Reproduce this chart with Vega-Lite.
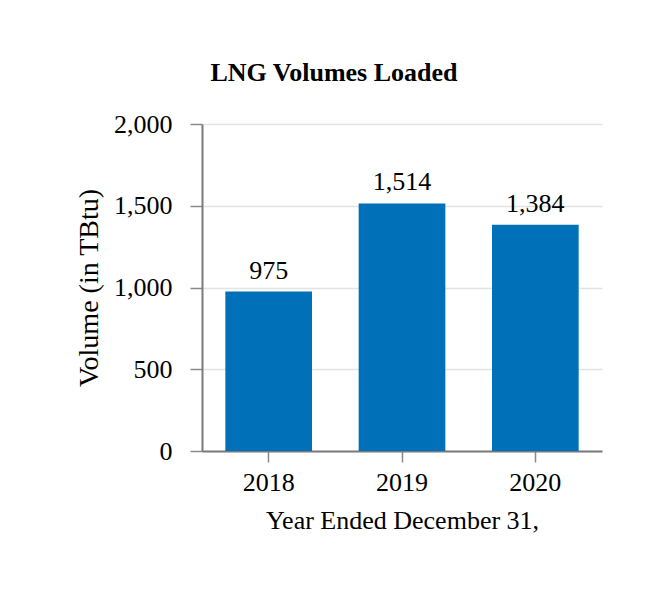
{
  "$schema": "https://vega.github.io/schema/vega-lite/v6.json",
  "autosize": "none",
  "padding": {"left": 202, "top": 124, "right": 64, "bottom": 149},
  "width": 400,
  "height": 327,
  "background": "white",
  "title": {
    "text": "LNG Volumes Loaded",
    "font": "Liberation Serif",
    "fontSize": 26,
    "fontWeight": "bold",
    "color": "black",
    "anchor": "middle",
    "dx": -68,
    "offset": 25
  },
  "data": {
    "values": [
      {"year": "2018", "volume": 975, "label": "975"},
      {"year": "2019", "volume": 1514, "label": "1,514"},
      {"year": "2020", "volume": 1384, "label": "1,384"}
    ]
  },
  "encoding": {
    "x": {
      "field": "year",
      "type": "nominal",
      "sort": null,
      "title": "Year Ended December 31,",
      "scale": {"paddingInner": 0.35, "paddingOuter": 0.175},
      "axis": {
        "labelAngle": 0,
        "tickSize": 11,
        "labelPadding": 7,
        "titlePadding": 12,
        "grid": false
      }
    },
    "y": {
      "field": "volume",
      "type": "quantitative",
      "title": "Volume (in TBtu)",
      "scale": {"domain": [0, 2000], "nice": false},
      "axis": {
        "values": [0, 500, 1000, 1500, 2000],
        "format": ",d",
        "tickSize": 12,
        "labelPadding": 18,
        "titlePadding": 10,
        "titleFontSize": 28,
        "grid": true,
        "gridColor": "#e3e3e3",
        "gridWidth": 1.5
      }
    }
  },
  "layer": [
    {"mark": {"type": "bar", "color": "#0070b8"}},
    {
      "mark": {
        "type": "text",
        "baseline": "bottom",
        "dy": -8,
        "font": "Liberation Serif",
        "fontSize": 26,
        "color": "black"
      },
      "encoding": {"text": {"field": "label"}}
    }
  ],
  "config": {
    "view": {"stroke": null},
    "axis": {
      "labelFont": "Liberation Serif",
      "titleFont": "Liberation Serif",
      "labelFontSize": 26,
      "titleFontSize": 26,
      "titleFontWeight": "normal",
      "labelColor": "black",
      "titleColor": "black",
      "domainColor": "#7a7a7a",
      "domainWidth": 2,
      "tickColor": "#8a8a8a",
      "tickWidth": 1.5
    }
  }
}
